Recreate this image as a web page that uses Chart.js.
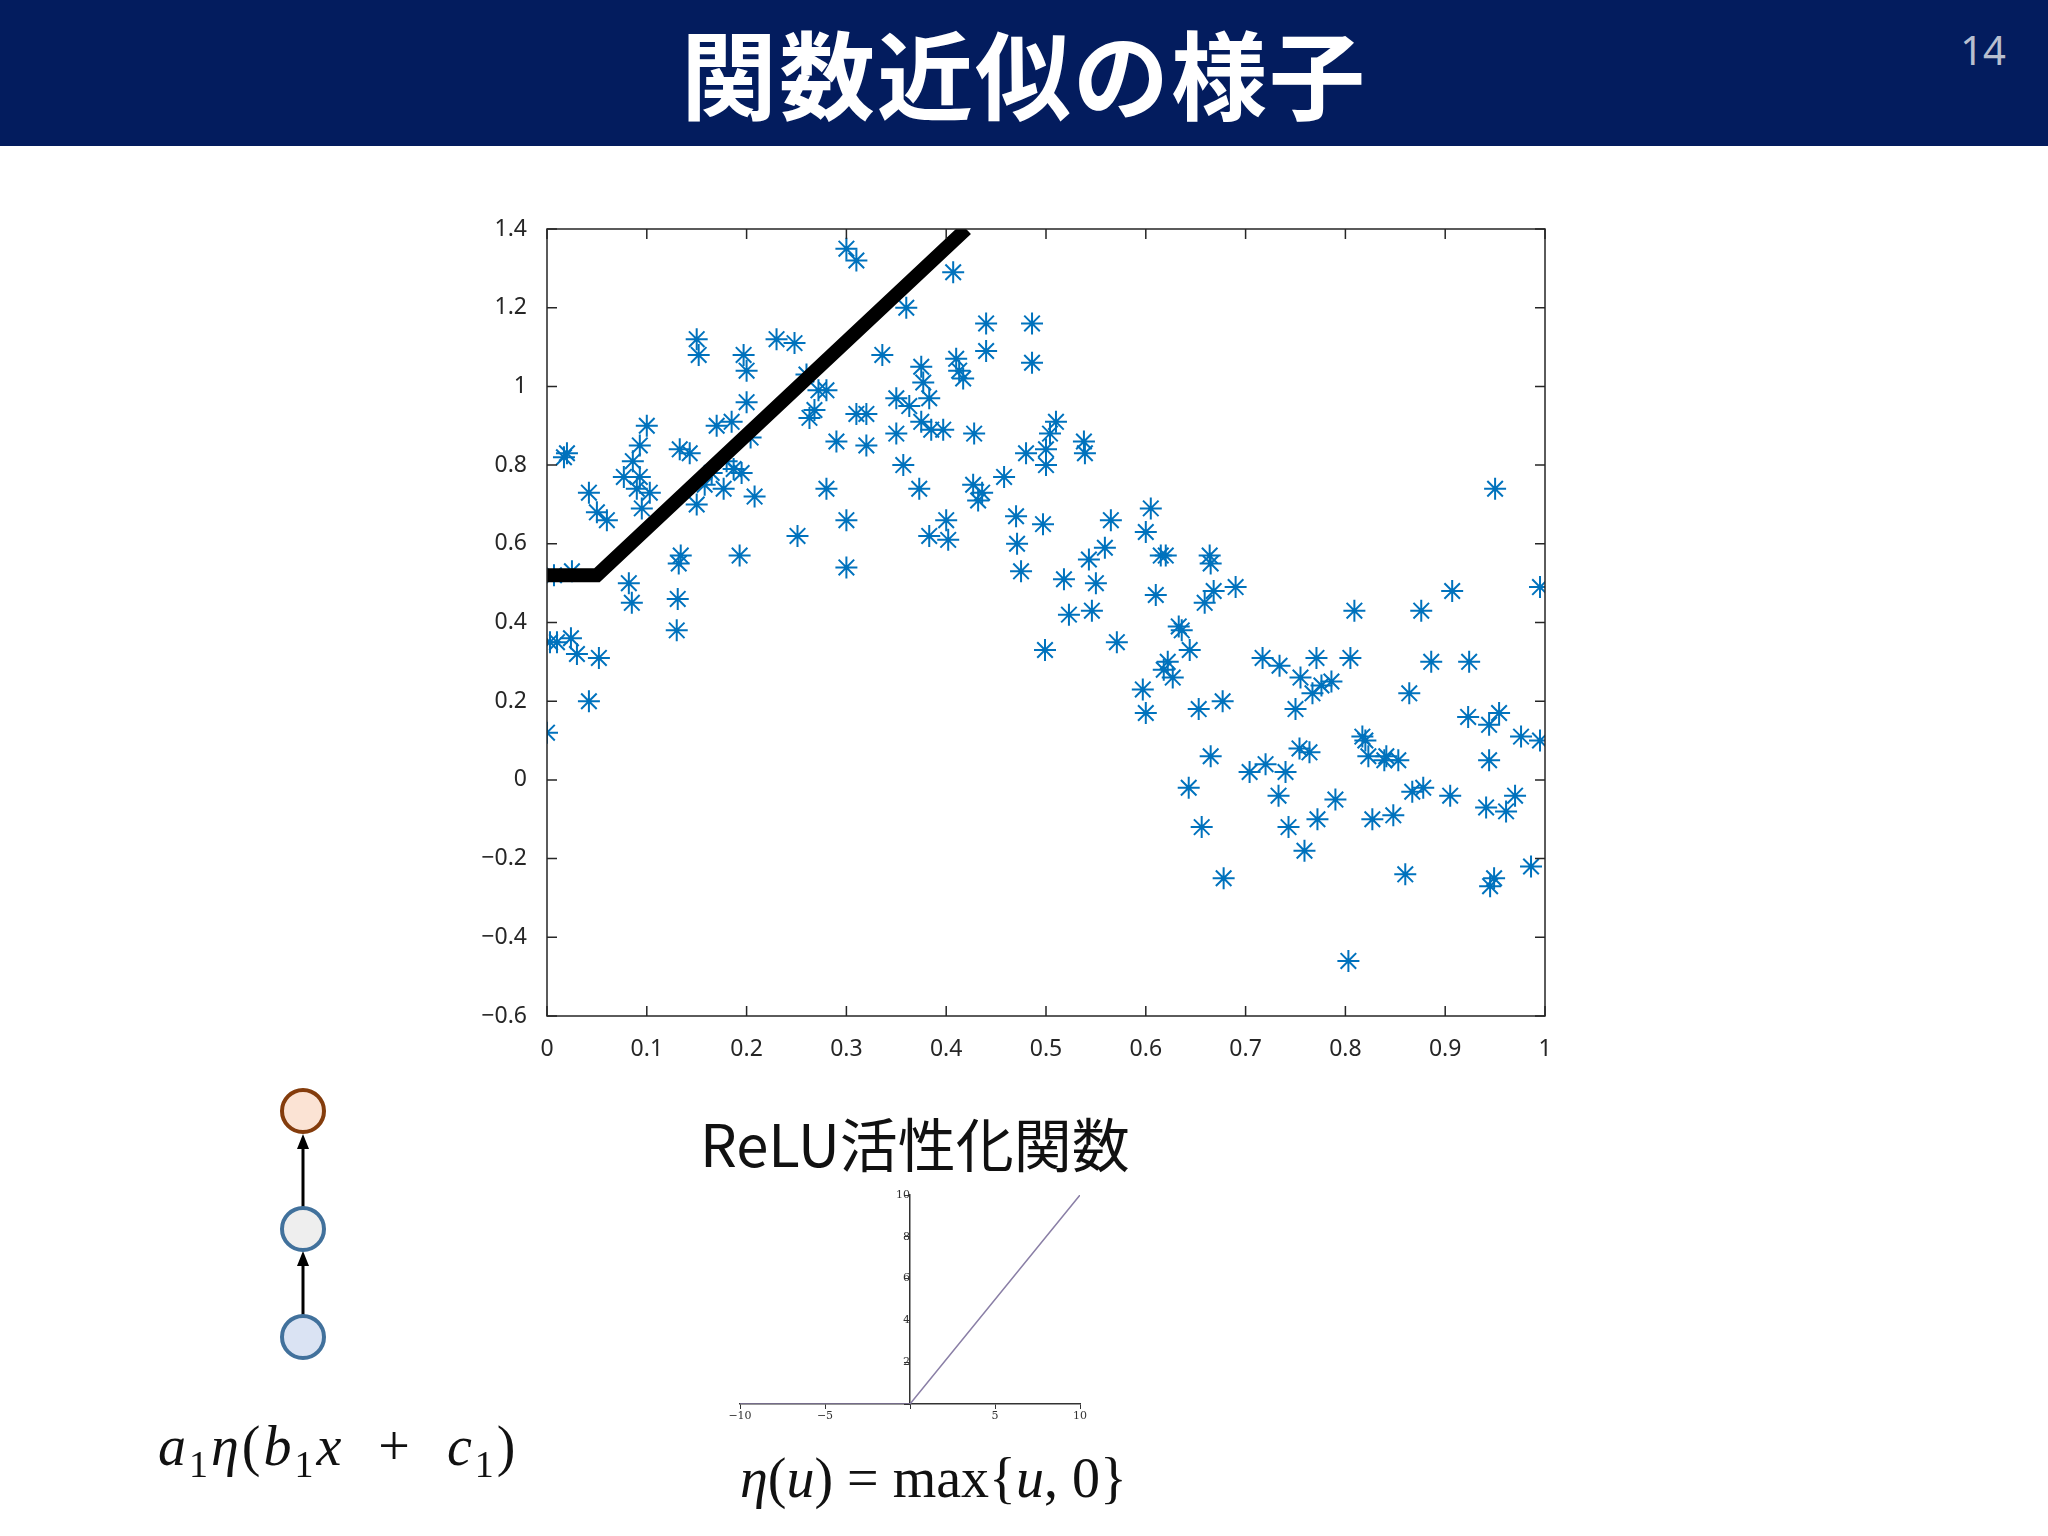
<!DOCTYPE html>
<html lang="ja">
<head>
<meta charset="UTF-8">
<title>関数近似の様子</title>
<script src="https://cdn.jsdelivr.net/npm/chart.js"></script>
<style>
  body { margin: 0; width: 2048px; height: 1536px; background: #fff; position: relative; overflow: hidden; font-family: 'Noto Sans CJK JP', sans-serif; }
  .header { position: absolute; left: 0; top: 0; width: 2048px; height: 146px; background: #031c5e; }
  .title { position: absolute; left: 0; width: 2048px; top: 6px; text-align: center; color: #fff; font-weight: bold; font-size: 96px; line-height: 130px; letter-spacing: 2px; }
  .page { position: absolute; right: 42px; top: 22px; color: #b8bfcf; font-size: 40px; font-family: 'Noto Sans', sans-serif; }
  #mainChart { position: absolute; left: 470px; top: 200px; }
  #reluChart { position: absolute; left: 720px; top: 1180px; }
  .relu-title { position: absolute; left: 700px; top: 1100px; font-size: 58px; color: #111; font-family: 'Noto Sans CJK JP', sans-serif; }
  .formula { position: absolute; font-family: 'Liberation Serif', serif; font-size: 56px; color: #111; white-space: nowrap; }
  svg { position: absolute; left: 0; top: 0; }
</style>
</head>
<body>
<div class="header"></div>
<div class="title">関数近似の様子</div>
<div class="page">14</div>

<canvas id="mainChart" width="1100" height="880"></canvas>

<svg width="2048" height="1536">
  <line x1="303" y1="1316" x2="303" y2="1262" stroke="#000" stroke-width="3"/>
  <path d="M303,1251 L297,1266 L309,1266 Z" fill="#000"/>
  <line x1="303" y1="1208" x2="303" y2="1145" stroke="#000" stroke-width="3"/>
  <path d="M303,1134 L297,1149 L309,1149 Z" fill="#000"/>
  <circle cx="303" cy="1111" r="21" fill="#fbe3d4" stroke="#843c0c" stroke-width="4"/>
  <circle cx="303" cy="1229" r="21" fill="#eeeeee" stroke="#41719c" stroke-width="4"/>
  <circle cx="303" cy="1337" r="21" fill="#dae3f3" stroke="#41719c" stroke-width="4"/>
</svg>
<div class="formula" style="left:158px; top:1414px; letter-spacing:3px;"><i>a</i><sub style="font-size:38px">1</sub><i>η</i>(<i>b</i><sub style="font-size:38px">1</sub><i>x</i>&nbsp; + &nbsp;<i>c</i><sub style="font-size:38px">1</sub>)</div>

<div class="relu-title">ReLU活性化関数</div>
<canvas id="reluChart" width="380" height="260"></canvas>
<div class="formula" style="left:740px; top:1446px;"><i>η</i>(<i>u</i>) = max{<i>u</i>, 0}</div>

<script>
  // scatter samples
  const sampleX = [0, 0.003, 0.01, 0.017, 0.02, 0.024, 0.03, 0.025, 0.042, 0.042, 0.05, 0.052, 0.06, 0.007,
    0.077, 0.082, 0.085, 0.086, 0.09, 0.093, 0.093, 0.095, 0.1, 0.103, 0.13, 0.131, 0.132, 0.133, 0.134, 0.143,
    0.15, 0.152, 0.15, 0.158, 0.165, 0.17, 0.177, 0.18, 0.185, 0.187, 0.195, 0.193, 0.197, 0.2, 0.2, 0.204, 0.208,
    0.23, 0.248, 0.251, 0.26, 0.263, 0.268, 0.272, 0.28, 0.28, 0.29, 0.3, 0.3, 0.3, 0.31, 0.31, 0.32, 0.32,
    0.336, 0.35, 0.35, 0.357, 0.36, 0.363, 0.373, 0.375, 0.377, 0.375, 0.383, 0.383, 0.385, 0.397, 0.4, 0.402,
    0.407, 0.41, 0.413, 0.417, 0.428, 0.427, 0.432, 0.436, 0.44, 0.44, 0.458, 0.47, 0.471, 0.475, 0.48, 0.486,
    0.486, 0.497, 0.499, 0.5, 0.5, 0.504, 0.51, 0.518, 0.523, 0.538, 0.539, 0.543, 0.546, 0.55, 0.559, 0.565,
    0.571, 0.597, 0.6, 0.6, 0.605, 0.61, 0.615, 0.62, 0.618, 0.622, 0.627, 0.633, 0.636, 0.644, 0.643, 0.653,
    0.656, 0.659, 0.664, 0.665, 0.665, 0.668, 0.677, 0.678, 0.69, 0.704, 0.717, 0.72, 0.734, 0.733, 0.74, 0.743,
    0.75, 0.755, 0.754, 0.759, 0.764, 0.767, 0.772, 0.771, 0.776, 0.786, 0.79, 0.803, 0.805, 0.809, 0.817, 0.82,
    0.823, 0.827, 0.839, 0.841, 0.853, 0.848, 0.86, 0.864, 0.867, 0.876, 0.878, 0.886, 0.905, 0.907, 0.924,
    0.923, 0.941, 0.944, 0.944, 0.945, 0.949, 0.95, 0.954, 0.961, 0.97, 0.976, 0.986, 0.995, 0.995];
  const sampleY = [0.12, 0.35, 0.35, 0.82, 0.83, 0.36, 0.32, 0.53, 0.2, 0.73, 0.68, 0.31, 0.66, 0.52,
    0.77, 0.5, 0.45, 0.81, 0.74, 0.85, 0.77, 0.69, 0.9, 0.73, 0.38, 0.46, 0.55, 0.84, 0.57, 0.83,
    1.12, 1.08, 0.7, 0.75, 0.78, 0.9, 0.74, 0.81, 0.91, 0.79, 0.78, 0.57, 1.08, 1.04, 0.96, 0.87, 0.72,
    1.12, 1.11, 0.62, 1.03, 0.92, 0.94, 0.99, 0.99, 0.74, 0.86, 0.66, 0.54, 1.35, 1.32, 0.93, 0.93, 0.85,
    1.08, 0.97, 0.88, 0.8, 1.2, 0.95, 0.74, 1.05, 1.01, 0.91, 0.97, 0.62, 0.89, 0.89, 0.66, 0.61,
    1.29, 1.07, 1.04, 1.02, 0.88, 0.75, 0.71, 0.73, 1.16, 1.09, 0.77, 0.67, 0.6, 0.53, 0.83, 1.16,
    1.06, 0.65, 0.33, 0.8, 0.84, 0.88, 0.91, 0.51, 0.42, 0.86, 0.83, 0.56, 0.43, 0.5, 0.59, 0.66,
    0.35, 0.23, 0.17, 0.63, 0.69, 0.47, 0.57, 0.57, 0.28, 0.3, 0.26, 0.39, 0.38, 0.33, -0.02, 0.18,
    -0.12, 0.45, 0.57, 0.55, 0.06, 0.48, 0.2, -0.25, 0.49, 0.02, 0.31, 0.04, 0.29, -0.04, 0.02, -0.12,
    0.18, 0.26, 0.08, -0.18, 0.07, 0.22, -0.1, 0.31, 0.24, 0.25, -0.05, -0.46, 0.31, 0.43, 0.11, 0.1,
    0.06, -0.1, 0.05, 0.06, 0.05, -0.09, -0.24, 0.22, -0.03, 0.43, -0.02, 0.3, -0.04, 0.48, 0.3,
    0.16, -0.07, 0.05, 0.14, -0.27, -0.25, 0.74, 0.17, -0.08, -0.04, 0.11, -0.22, 0.1, 0.49];

  // fitted ReLU unit: knot points
  const fitX = [0, 0.05, 0.42];
  const fitY = [0.52, 0.52, 1.4];

  const reluX = [-10, 0, 10];
  const reluY = [0, 0, 10];

  const fmt = v => {
    const n = Number(v.toFixed(1));
    return String(n).replace('-', '\u2212');
  };

  const boxTicks = {
    id: 'boxTicks',
    afterDraw(chart) {
      const { ctx, chartArea: a, scales } = chart;
      ctx.save();
      ctx.strokeStyle = '#262626';
      ctx.lineWidth = 1.5;
      ctx.strokeRect(a.left, a.top, a.right - a.left, a.bottom - a.top);
      ctx.beginPath();
      scales.x.ticks.forEach(t => {
        const px = scales.x.getPixelForValue(t.value);
        ctx.moveTo(px, a.bottom); ctx.lineTo(px, a.bottom - 10);
        ctx.moveTo(px, a.top); ctx.lineTo(px, a.top + 10);
      });
      scales.y.ticks.forEach(t => {
        const py = scales.y.getPixelForValue(t.value);
        ctx.moveTo(a.left, py); ctx.lineTo(a.left + 10, py);
        ctx.moveTo(a.right, py); ctx.lineTo(a.right - 10, py);
      });
      ctx.stroke();
      ctx.restore();
    }
  };

  new Chart(document.getElementById('mainChart'), {
    type: 'scatter',
    data: {
      datasets: [{
        type: 'line',
        data: fitX.map((x, i) => ({ x, y: fitY[i] })),
        borderColor: '#000',
        borderWidth: 14,
        pointRadius: 0,
        borderCapStyle: 'butt',
        order: 0
      }, {
        data: sampleX.map((x, i) => ({ x, y: sampleY[i] })),
        pointStyle: 'star',
        pointRadius: 11,
        borderColor: '#0072bd',
        backgroundColor: '#0072bd',
        borderWidth: 2,
        order: 1
      }]
    },
    options: {
      responsive: false,
      animation: false,
      devicePixelRatio: 1,
      layout: { padding: { top: 29, right: 25, left: 0, bottom: 0 } },
      plugins: { legend: { display: false }, tooltip: { enabled: false } },
      scales: {
        x: {
          type: 'linear', min: 0, max: 1,
          afterFit: s => { s.height = 64; },
          grid: { display: false },
          border: { display: false },
          ticks: { stepSize: 0.1, color: '#262626', padding: 12, font: { size: 23, family: 'Noto Sans' }, callback: fmt, maxRotation: 0 }
        },
        y: {
          type: 'linear', min: -0.6, max: 1.4,
          afterFit: s => { s.width = 77; },
          grid: { display: false },
          border: { display: false },
          ticks: { stepSize: 0.2, color: '#262626', padding: 12, font: { size: 23, family: 'Noto Sans' }, callback: fmt }
        }
      }
    },
    plugins: [boxTicks]
  });

  new Chart(document.getElementById('reluChart'), {
    type: 'scatter',
    data: {
      datasets: [{
        type: 'line',
        data: reluX.map((x, i) => ({ x, y: reluY[i] })),
        borderColor: '#8a7fa6',
        borderWidth: 1.5,
        pointRadius: 0
      }]
    },
    options: {
      responsive: false,
      animation: false,
      devicePixelRatio: 1,
      layout: { padding: { top: 15, right: 20, left: 20, bottom: 16 } },
      plugins: { legend: { display: false }, tooltip: { enabled: false } },
      scales: {
        x: {
          type: 'linear', min: -10, max: 10, position: 'bottom',
          afterFit: s => { s.height = 20; },
          grid: { drawOnChartArea: false, tickLength: 5, color: '#333' },
          border: { color: '#333', width: 1.5 },
          ticks: { stepSize: 5, color: '#333', font: { size: 11, family: 'DejaVu Serif' },
            callback: v => v === 0 ? '' : String(v).replace('-', '\u2212'), padding: 1 }
        },
        y: {
          type: 'linear', min: 0, max: 10, position: { x: 0 },
          grid: { drawOnChartArea: false, tickLength: 5, color: '#333' },
          border: { color: '#333', width: 1.5 },
          ticks: { stepSize: 2, color: '#333', font: { size: 11, family: 'DejaVu Serif' },
            callback: v => v === 0 ? '' : String(v), padding: 1 }
        }
      }
    }
  });
</script>
</body>
</html>
